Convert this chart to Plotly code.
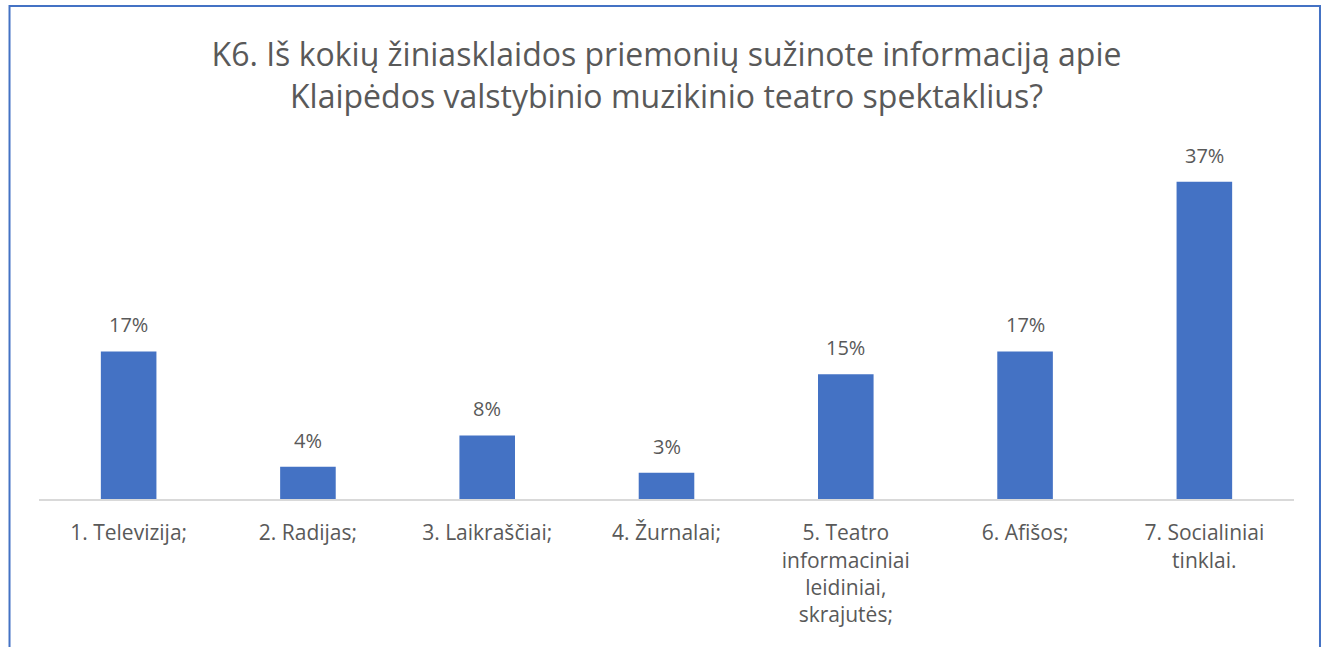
import plotly.graph_objects as go

categories = [
    "1. Televizija;",
    "2. Radijas;",
    "3. Laikraščiai;",
    "4. Žurnalai;",
    "5. Teatro<br>informaciniai<br>leidiniai,<br>skrajutės;",
    "6. Afišos;",
    "7. Socialiniai<br>tinklai.",
]
values = [17.4, 3.8, 7.5, 3.1, 14.7, 17.4, 37.4]
value_labels = ["17%", "4%", "8%", "3%", "15%", "17%", "37%"]

title_text = ("K6. Iš kokių žiniasklaidos priemonių sužinote informaciją apie<br>"
              "Klaipėdos valstybinio muzikinio teatro spektaklius?")

W, H = 1325, 647
plot_left, plot_right, plot_top, plot_bottom = 38.5, 1294, 140, 499
ml = plot_left
mr = W - plot_right
mt = plot_top
mb = H - plot_bottom
plot_w = plot_right - plot_left
plot_h = plot_bottom - plot_top
px_per_unit = 8.48
ymax = plot_h / px_per_unit

fig = go.Figure(
    go.Bar(
        x=categories,
        y=values,
        marker=dict(color="#4472C4", line=dict(width=0)),
        width=0.31,
        hoverinfo="skip",
    )
)

for cat, val, lab in zip(categories, values, value_labels):
    fig.add_annotation(
        x=cat, y=val, xref="x", yref="y",
        text=lab, showarrow=False,
        xanchor="center", yanchor="bottom", yshift=11,
        font=dict(family="Open Sans", size=20, color="#595959"),
    )

def px_to_paper_x(px):
    return (px - plot_left) / plot_w

def px_to_paper_y(py):
    return (plot_bottom - py) / plot_h

fig.add_shape(
    type="rect", xref="paper", yref="paper",
    x0=px_to_paper_x(9), x1=px_to_paper_x(1320),
    y0=px_to_paper_y(720), y1=px_to_paper_y(6),
    line=dict(color="#4472C4", width=2), fillcolor="rgba(0,0,0,0)",
    layer="below",
)

fig.update_layout(
    width=W, height=H,
    margin=dict(l=ml, r=mr, t=mt, b=mb, pad=0),
    paper_bgcolor="white", plot_bgcolor="white",
    showlegend=False,
    title=dict(
        text=title_text,
        x=0.5, xanchor="center", xref="paper",
        y=1 - 66 / H, yanchor="top", yref="container",
        font=dict(family="Open Sans", size=32, color="#595959"),
    ),
    xaxis=dict(
        showline=True, linecolor="#D9D9D9", linewidth=2,
        showgrid=False, ticks="", zeroline=False,
        tickfont=dict(family="Open Sans", size=21, color="#595959"),
        ticklabelstandoff=14,
        fixedrange=True,
    ),
    yaxis=dict(
        range=[0, ymax], visible=False, showgrid=False, zeroline=False,
        fixedrange=True,
    ),
    bargap=0.69,
)

fig.write_html(
    "out.html",
    config={"displayModeBar": False, "staticPlot": True},
    post_script="document.body.style.margin='0';document.body.style.overflow='hidden';",
)
